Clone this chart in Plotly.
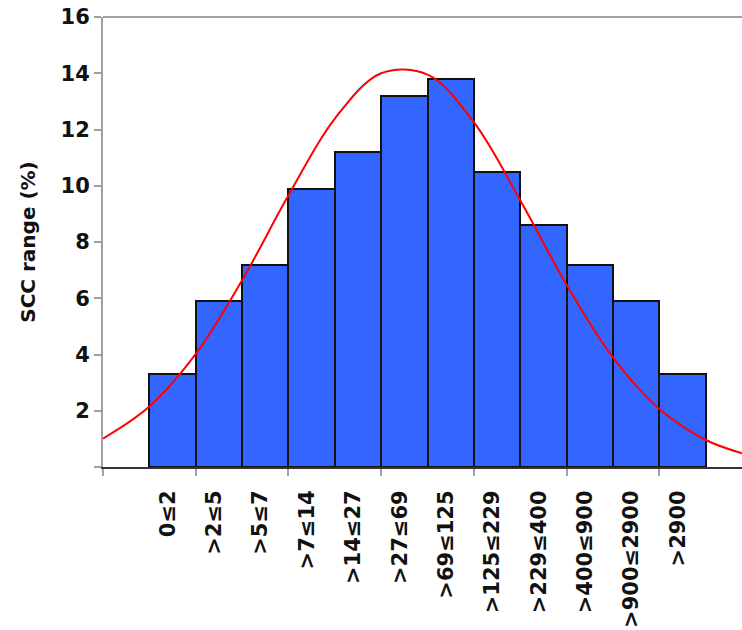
import plotly.graph_objects as go

# ---- data ----
categories = ["0≤2", ">2≤5", ">5≤7", ">7≤14", ">14≤27", ">27≤69", ">69≤125",
              ">125≤229", ">229≤400", ">400≤900", ">900≤2900", ">2900"]
scc_percent = [3.3, 5.9, 7.2, 9.9, 11.2, 13.2, 13.8, 10.5, 8.6, 7.2, 5.9, 3.3]

# fitted normal curve at class boundaries (in class-width units)
curve_pos = [-1, 0, 1, 2, 3, 4, 5, 6, 7, 8, 9, 10, 11, 12, 12.78]
curve_val = [1.01, 2.15, 4.02, 6.64, 9.66, 12.39, 14.0, 13.95, 12.25, 9.48, 6.47, 3.89, 2.06, 0.96, 0.49]

y_ticks = [0, 2, 4, 6, 8, 10, 12, 14, 16]
y_tick_labels = ["", "2", "4", "6", "8", "10", "12", "14", "16"]
x_major_ticks = [-1, 1, 3, 5, 7, 9, 11]

bar_centers = [i + 0.5 for i in range(len(categories))]
x_range = [-1, 12.78]
label_shift = 0.1
x2_range = [x_range[0] + label_shift, x_range[1] + label_shift]

fig = go.Figure()
fig.add_trace(go.Bar(
    x=bar_centers, y=scc_percent, width=1,
    marker=dict(color="#3366FF", line=dict(color="#111111", width=2)),
    showlegend=False,
))
fig.add_trace(go.Scatter(
    x=curve_pos, y=curve_val, mode="lines",
    line=dict(color="#FF0000", width=2, shape="spline", smoothing=1),
    showlegend=False,
))
# invisible helper trace to carry the category labels axis
fig.add_trace(go.Scatter(x=bar_centers, y=[None] * len(bar_centers), xaxis="x2",
                         showlegend=False, hoverinfo="skip"))

fig.update_layout(
    width=742, height=630,
    margin=dict(l=103, r=0, t=17, b=163),
    plot_bgcolor="white", paper_bgcolor="white",
    bargap=0,
    font=dict(family="DejaVu Sans", color="#111111"),
    xaxis=dict(
        range=x_range, showgrid=False, zeroline=False, automargin=False,
        showline=True, linecolor="#333333", linewidth=2,
        tickmode="array", tickvals=x_major_ticks, showticklabels=False,
        ticks="outside", ticklen=7, tickwidth=2, tickcolor="#a0a0a0",
    ),
    xaxis2=dict(
        range=x2_range, overlaying="x", anchor="y", side="bottom",
        showgrid=False, zeroline=False, showline=False, automargin=False,
        tickmode="array", tickvals=bar_centers, ticktext=categories,
        tickangle=-90, ticks="outside", ticklen=14, tickcolor="rgba(0,0,0,0)",
        ticklabeloverflow="allow",
        tickfont=dict(family="DejaVu Sans", size=21, color="#111111", weight="bold"),
    ),
    yaxis=dict(
        range=[0, 16], showgrid=False, zeroline=False, automargin=False,
        showline=True, linecolor="#a0a0a0", linewidth=2,
        tickmode="array", tickvals=y_ticks, ticktext=y_tick_labels,
        ticks="outside", ticklen=7, tickwidth=2, tickcolor="#a0a0a0",
        ticklabeloverflow="allow",
        tickfont=dict(family="DejaVu Sans", size=21, color="#111111", weight="bold"),
        title=dict(text="SCC range (%)", standoff=20,
                   font=dict(family="DejaVu Sans", size=20, color="#111111", weight="bold")),
    ),
    shapes=[dict(type="line", xref="paper", yref="paper", x0=0, x1=1, y0=1, y1=1,
                 line=dict(color="#a0a0a0", width=2))],
)

# remove the page's default body margin so the figure fills the window exactly
fig.write_html("out.html", config={"displayModeBar": False},
               post_script="document.body.style.margin='0px';")
